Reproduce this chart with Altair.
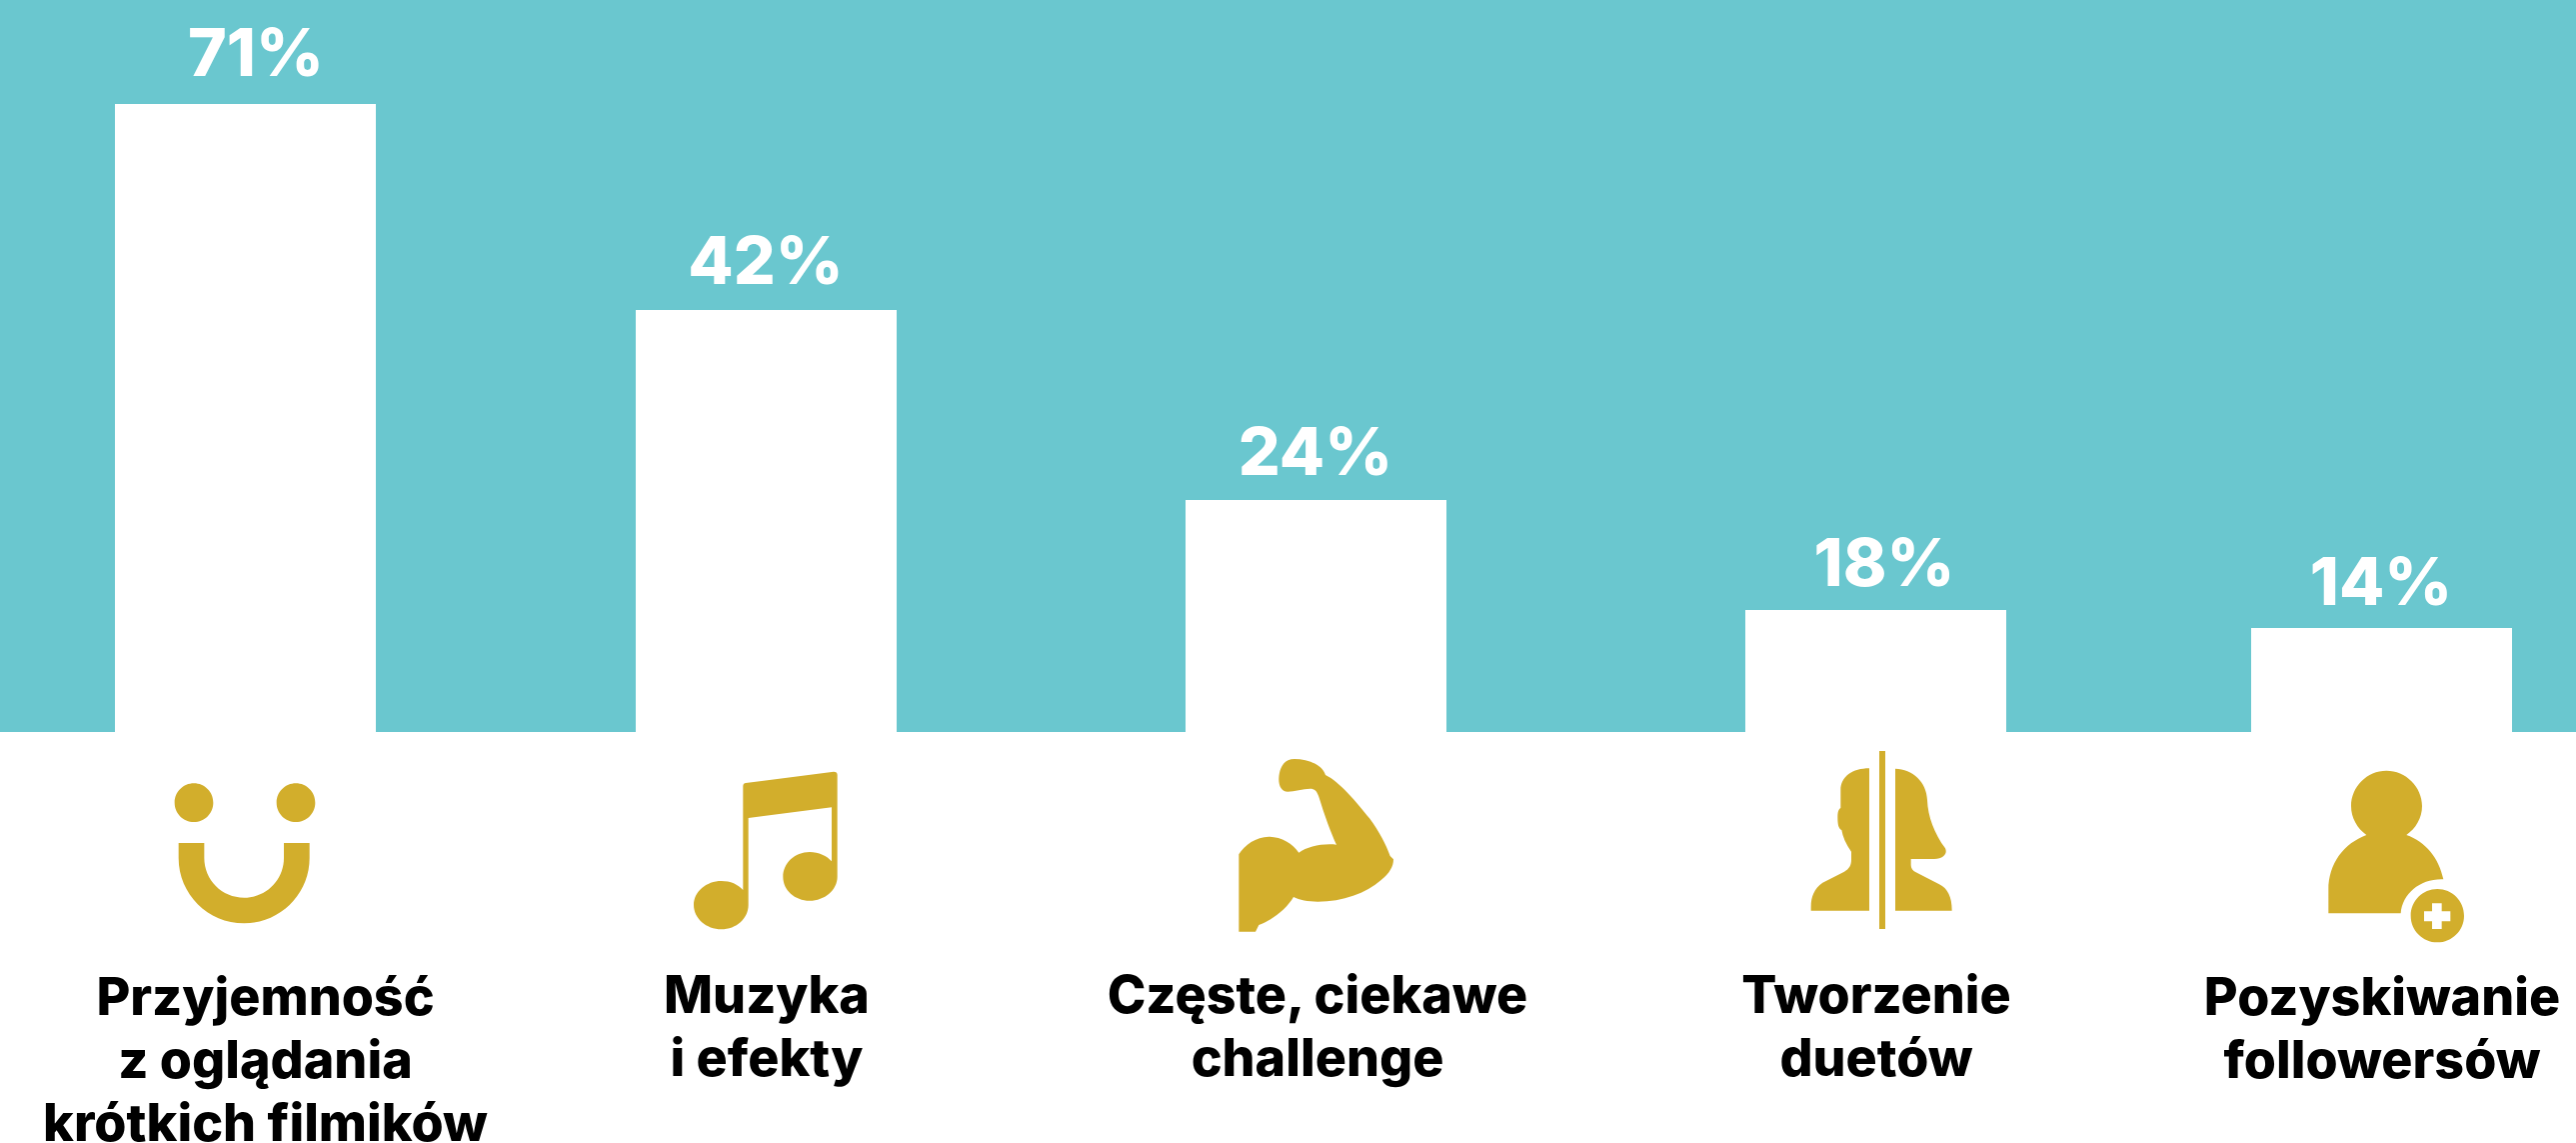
import re
import altair as alt
import pandas as pd

# Chart values
categories = [
    "Przyjemność\nz oglądania\nkrótkich filmików",
    "Muzyka\ni efekty",
    "Częste, ciekawe\nchallenge",
    "Tworzenie\nduetów",
    "Pozyskiwanie\nfollowersów",
]
shares = [71, 42, 24, 18, 14]
order = [0, 1, 2, 3, 4]

W, H = 2577, 1143
BASE_Y = 732
TEAL = "#6AC7CF"
GOLD = "#D2AE2C"
FONT = "Inter"

# Bar heights are not proportional to the printed shares, so the value axis is piecewise
value_domain = [0, 14, 18, 24, 42, 71]
bar_y_range = [BASE_Y, 628, 610, 500, 310, 104]
bar_x_range = [245.5, 766.5, 1316.5, 1876.5, 2382.5]
share_value_domain = [14, 18, 24, 42, 71]
share_y_range = [605, 586, 475, 284, 76]
share_x_range = [256, 766, 1316, 1885, 2382]
caption_x_range = [265.5, 767, 1318, 1877, 2383]


def circle(cx, cy, r):
    k = 0.5523 * r
    return (
        f"M{cx},{cy - r} C{cx + k},{cy - r} {cx + r},{cy - k} {cx + r},{cy} "
        f"C{cx + r},{cy + k} {cx + k},{cy + r} {cx},{cy + r} "
        f"C{cx - k},{cy + r} {cx - r},{cy + k} {cx - r},{cy} "
        f"C{cx - r},{cy - k} {cx - k},{cy - r} {cx},{cy - r} Z "
    )


def shifted(path, ox, oy):
    """Move an icon outline (drawn on a 3x grid) so its anchor sits at the origin."""
    def move(m):
        return f"{float(m.group(1)) - ox:.1f},{float(m.group(2)) - oy:.1f}"
    return re.sub(r"(-?[\d.]+),(-?[\d.]+)", move, path)


# Icon outlines on a 3x grid; each is paired with the grid's page origin
smile = (
    circle(102, 98, 58) + circle(408, 98, 58) +
    "M56,219 L133,219 L133,264 C133,330 186,383 252.5,383 C319,383 372,330 372,264 "
    "L372,219 L449,219 L449,264 C449,372 361,460 252.5,460 C144,460 56,372 56,264 Z"
)
note = (
    "M220,108 C220,102 224,100 228,99 L492,65 C499,65 503,68 503,75 L503,380 "
    "C503,420 465,452 420,452 C375,452 340,420 340,380 C340,340 375,306 420,306 "
    "C447,306 472,318 486,334 L486,172 L236,204 L236,465 C236,505 200,538 155,538 "
    "C110,538 72,505 72,465 C72,425 110,393 155,393 C182,393 205,403 220,420 Z"
)
arm = (
    "M118,545 L118,313 C135,285 170,260 208,260 C245,260 280,280 298,308 "
    "C325,290 365,280 411,284 C395,250 375,195 358,140 C352,122 345,116 332,116 "
    "C310,116 285,125 265,125 C245,125 237,105 238,85 C240,50 255,27 285,27 "
    "C325,27 370,45 378,75 C420,95 470,155 510,205 C540,245 560,285 572,318 "
    "L582,328 C582,350 570,370 545,390 C500,430 430,455 355,455 C325,455 300,450 282,441 "
    "C262,475 220,510 178,525 L168,545 Z"
)
duet = (
    "M270,3 L288,3 L288,537 L270,537 Z "
    "M240,55 L240,482 L65,482 L65,470 C65,440 75,415 100,398 L165,365 "
    "C180,357 186,345 186,330 L186,305 C170,282 160,260 157,240 "
    "C148,235 145,225 145,200 C145,185 148,178 154,174 L154,120 C154,80 190,55 240,55 Z "
    "M318,56 C370,58 412,95 414,150 C416,200 435,250 468,295 C475,310 465,326 435,327 "
    "L365,327 L365,345 C365,355 370,362 380,367 L450,403 C475,415 488,440 488,482 L318,482 Z"
)
person = (
    "M58,490 L58,420 C58,340 105,280 172,255 C145,235 126,205 126,168 "
    "C126,110 174,62 232,62 C290,62 339,110 339,168 C339,205 320,235 292,255 "
    "C350,275 390,325 403,388 C335,385 280,430 275,490 Z " +
    circle(385, 497, 80) +
    "M369,460 L369,484 L345,484 L345,514 L369,514 L369,537 L398,537 L398,514 "
    "L424,514 L424,484 L398,484 L398,460 Z"
)
icon_grids = [
    (smile, 160, 770),
    (note, 670, 750),
    (arm, 1200, 750),
    (duet, 1790, 750),
    (person, 2310, 750),
]
ICON_Y = 850
icon_paths = [
    shifted(path, (cx - gx) * 3, (ICON_Y - gy) * 3)
    for (path, gx, gy), cx in zip(icon_grids, bar_x_range)
]

df = pd.DataFrame({"order": order, "category": categories, "share": shares})
df["share_label"] = df["share"].astype(str) + "%"

band = alt.Chart(df.head(1)).mark_rect(color=TEAL).encode(
    x=alt.value(0), x2=alt.value(W), y=alt.value(0), y2=alt.value(BASE_Y)
)

bars = alt.Chart(df).mark_bar(color="white", size=261, orient="vertical").encode(
    x=alt.X("order:Q", axis=None,
            scale=alt.Scale(domain=order, range=bar_x_range, padding=0)),
    y=alt.Y("share:Q", axis=None, stack=None,
            scale=alt.Scale(domain=value_domain, range=bar_y_range, padding=0)),
)

share_labels = alt.Chart(df).mark_text(
    font=FONT, fontSize=66, fontWeight=800, color="white", align="center", baseline="alphabetic"
).encode(
    x=alt.X("order:Q", axis=None, scale=alt.Scale(domain=order, range=share_x_range)),
    y=alt.Y("share:Q", axis=None, scale=alt.Scale(domain=share_value_domain, range=share_y_range)),
    text="share_label:N",
)

icons = alt.Chart(df).mark_point(filled=True, opacity=1, color=GOLD, strokeWidth=0, size=4 / 9).encode(
    x=alt.X("order:Q", axis=None, scale=alt.Scale(domain=order, range=bar_x_range)),
    y=alt.value(ICON_Y),
    shape=alt.Shape("category:N", legend=None,
                    scale=alt.Scale(domain=categories, range=icon_paths)),
)


def captions(rows, baseline_y):
    return alt.Chart(df.iloc[rows]).mark_text(
        font=FONT, fontSize=52, fontWeight=800, color="black", align="center",
        baseline="alphabetic", lineBreak="\n", lineHeight=63,
    ).encode(
        x=alt.X("order:Q", axis=None, scale=alt.Scale(domain=order, range=caption_x_range)),
        y=alt.value(baseline_y),
        text="category:N",
    )


chart = alt.layer(
    band, bars, share_labels, icons, captions([0, 4], 1015), captions([1, 2, 3], 1013)
).resolve_scale(
    x="independent", y="independent", shape="independent"
).properties(
    width=W, height=H, padding=0, autosize=alt.AutoSizeParams(type="none"),
    background="white",
).configure_view(stroke=None)

chart.save("out.html", embed_options={"renderer": "svg", "actions": False})
